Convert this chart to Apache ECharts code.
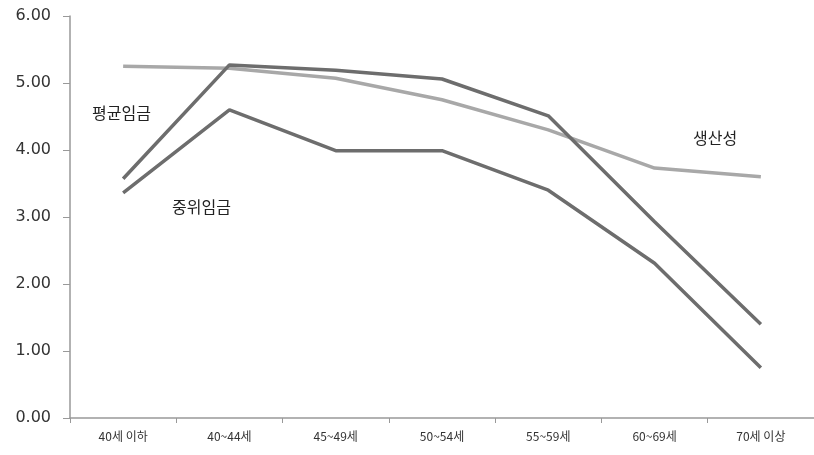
<!DOCTYPE html>
<html>
<head>
<meta charset="utf-8">
<script src="https://cdn.jsdelivr.net/npm/echarts@6/dist/echarts.min.js"></script>
<style>
html,body{margin:0;padding:0;background:#fff;}
#main{width:814px;height:455px;}
</style>
</head>
<body>
<div id="main"></div>
<script>
// 연령대
var categories = ['40세 이하', '40~44세', '45~49세', '50~54세', '55~59세', '60~69세', '70세 이상'];
var avgWage = [3.57, 5.27, 5.19, 5.06, 4.51, 2.93, 1.40];
var medWage = [3.36, 4.60, 3.99, 3.99, 3.40, 2.31, 0.75];
var productivity = [5.25, 5.22, 5.07, 4.75, 4.30, 3.73, 3.60];

var kr = '"Noto Sans CJK KR", sans-serif';
var myChart = echarts.init(document.getElementById('main'));

function lineSeries(name, data, color) {
    return {
        name: name,
        type: 'line',
        data: data,
        symbol: 'none',
        lineStyle: {color: color, width: 3.5},
        itemStyle: {color: color},
        silent: true
    };
}

var option = {
    animation: false,
    grid: {left: 70, top: 16, width: 749, height: 402},
    xAxis: {
        type: 'category',
        data: categories,
        axisLine: {lineStyle: {color: '#999', width: 1.5}},
        axisTick: {show: true, length: 5, lineStyle: {color: '#999'}},
        axisLabel: {color: '#333', fontSize: 12, fontFamily: kr, margin: 12}
    },
    yAxis: {
        type: 'value',
        min: 0,
        max: 6,
        interval: 1,
        splitLine: {show: false},
        axisLine: {show: true, lineStyle: {color: '#999', width: 1.5}},
        axisTick: {show: true, length: 7, lineStyle: {color: '#999'}},
        axisLabel: {
            color: '#333', fontSize: 16, fontFamily: 'DejaVu Sans', margin: 19,
            formatter: function (v) { return v.toFixed(2); }
        }
    },
    series: [
        lineSeries('생산성', productivity, '#a8a8a8'),
        lineSeries('평균임금', avgWage, '#6d6d6d'),
        lineSeries('중위임금', medWage, '#6d6d6d')
    ],
    graphic: [
        {type: 'text', left: 92, top: 105, style: {text: '평균임금', font: '16px ' + kr, fill: '#222'}},
        {type: 'text', left: 172, top: 199, style: {text: '중위임금', font: '16px ' + kr, fill: '#222'}},
        {type: 'text', left: 693, top: 130, style: {text: '생산성', font: '16px ' + kr, fill: '#222'}}
    ]
};

myChart.setOption(option);
</script>
</body>
</html>
